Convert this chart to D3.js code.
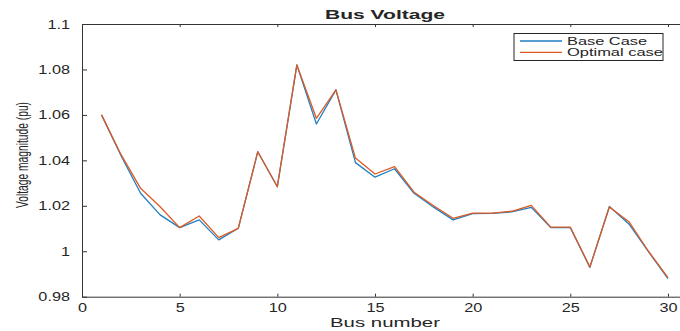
<!DOCTYPE html>
<html>
<head>
<meta charset="utf-8">
<script src="https://cdn.jsdelivr.net/npm/d3@7"></script>
<style>
  body { margin: 0; background: #fff; }
  text { font-family: "Liberation Sans", Arial, Helvetica, sans-serif; fill: #262626; }
</style>
</head>
<body>
<div id="chart"></div>
<script>
// Bus numbers and voltage magnitudes (pu)
var buses = [1, 2, 3, 4, 5, 6, 7, 8, 9, 10, 11, 12, 13, 14, 15,
  16, 17, 18, 19, 20, 21, 22, 23, 24, 25, 26, 27, 28, 29, 30];

var baseCase = [1.060, 1.042, 1.0255, 1.016, 1.0104, 1.0138, 1.0050, 1.0101, 1.0438, 1.0284,
  1.0820, 1.0560, 1.0710, 1.0390, 1.0326, 1.0363, 1.0255, 1.0194, 1.0138, 1.0166,
  1.0167, 1.0173, 1.0193, 1.0104, 1.0104, 0.9929, 1.0197, 1.0120, 0.9998, 0.9880];

var optimalCase = [1.060, 1.0425, 1.0277, 1.0196, 1.0104, 1.0155, 1.0060, 1.0101, 1.0438, 1.0284,
  1.0820, 1.0585, 1.0710, 1.0410, 1.0340, 1.0372, 1.0260, 1.0200, 1.0145, 1.0168,
  1.0168, 1.0176, 1.0202, 1.0106, 1.0106, 0.9931, 1.0195, 1.0130, 1.0000, 0.9884];

var xTicks = [0, 5, 10, 15, 20, 25, 30];
var yTicks = [0.98, 1, 1.02, 1.04, 1.06, 1.08, 1.1];
var seriesNames = ["Base Case", "Optimal case"];
var seriesColors = ["#1f7fc4", "#dd5a22"];

var svgWidth = 680;
var svgHeight = 331;

var svg = d3.select("#chart")
  .append("svg")
  .attr("width", svgWidth)
  .attr("height", svgHeight);

// scales (x axis runs past the right edge, picture is cropped there)
var xScale = d3.scaleLinear().domain([0, 31]).range([82, 82 + 31 * 19.533]);
var yScale = d3.scaleLinear().domain([0.98, 1.1]).range([296.7, 24]);

// stretch text horizontally like the reference
function stretch(sel, factor) {
  sel.each(function () {
    var w = this.getComputedTextLength();
    d3.select(this)
      .attr("textLength", w * factor)
      .attr("lengthAdjust", "spacingAndGlyphs");
  });
}

// bottom axis, ticks pointing inward
var bottomAxis = svg.append("g")
  .attr("transform", "translate(0," + yScale(0.98) + ")")
  .call(d3.axisBottom(xScale).tickValues(xTicks).tickSizeInner(-3).tickSizeOuter(0).tickPadding(12));

// top axis
var topAxis = svg.append("g")
  .attr("transform", "translate(0," + yScale(1.1) + ")")
  .call(d3.axisTop(xScale).tickValues(xTicks).tickSizeInner(-3).tickSizeOuter(0).tickFormat(""));

// left axis
var leftAxis = svg.append("g")
  .attr("transform", "translate(" + xScale(0) + ",0)")
  .call(d3.axisLeft(yScale).tickValues(yTicks).tickSizeInner(-5).tickSizeOuter(0).tickPadding(12)
    .tickFormat(d => String(+d.toFixed(2))));

[bottomAxis, topAxis, leftAxis].forEach(function (g) {
  g.select(".domain").attr("stroke", "#333");
  g.selectAll(".tick line").attr("stroke", "#333");
  g.selectAll("text")
    .style("font-family", '"Liberation Sans", Arial, sans-serif')
    .style("font-size", "12.5px")
    .attr("fill", "#3a3a3a");
});
bottomAxis.selectAll(".tick text").attr("y", 6).attr("dy", "0.71em");
leftAxis.selectAll(".tick text").attr("x", -12);
stretch(bottomAxis.selectAll(".tick text"), 1.3);
stretch(leftAxis.selectAll(".tick text"), 1.3);

// lines
var line = d3.line()
  .x((d, i) => xScale(buses[i]))
  .y(d => yScale(d));

[baseCase, optimalCase].forEach(function (vals, i) {
  svg.append("path")
    .datum(vals)
    .attr("fill", "none")
    .attr("stroke", seriesColors[i])
    .attr("stroke-width", 1.3)
    .attr("stroke-linejoin", "round")
    .attr("d", line);
});

// title
svg.append("text")
  .attr("x", 385)
  .attr("y", 18.5)
  .attr("text-anchor", "middle")
  .style("font-size", "12px")
  .style("font-weight", "bold")
  .attr("fill", "#000")
  .attr("textLength", 120)
  .attr("lengthAdjust", "spacingAndGlyphs")
  .text("Bus Voltage");

// x label
svg.append("text")
  .attr("x", 385)
  .attr("y", 327)
  .attr("text-anchor", "middle")
  .style("font-size", "12.5px")
  .attr("textLength", 110)
  .attr("lengthAdjust", "spacingAndGlyphs")
  .text("Bus number");

// y label
svg.append("text")
  .attr("transform", "translate(28,155) rotate(-90)")
  .attr("text-anchor", "middle")
  .style("font-size", "17px")
  .attr("textLength", 106)
  .attr("lengthAdjust", "spacingAndGlyphs")
  .text("Voltage magnitude (pu)");

// legend
var legend = svg.append("g");
legend.append("rect")
  .attr("x", 514)
  .attr("y", 33.5)
  .attr("width", 149)
  .attr("height", 27)
  .attr("fill", "#fff")
  .attr("stroke", "#262626")
  .attr("stroke-width", 1);

var legendLens = [80, 96];
seriesNames.forEach(function (name, i) {
  var ly = 41 + i * 11.3;
  legend.append("line")
    .attr("x1", 520).attr("x2", 562)
    .attr("y1", ly).attr("y2", ly)
    .attr("stroke", seriesColors[i])
    .attr("stroke-width", 1.3);
  legend.append("text")
    .attr("x", 567)
    .attr("y", ly + 4)
    .style("font-size", "11px")
    .attr("textLength", legendLens[i])
    .attr("lengthAdjust", "spacingAndGlyphs")
    .text(name);
});
</script>
</body>
</html>
